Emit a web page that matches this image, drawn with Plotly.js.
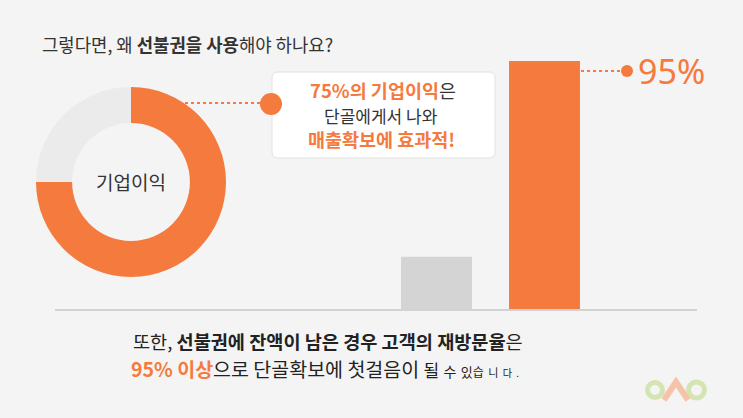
<!DOCTYPE html>
<html>
<head>
<meta charset="utf-8">
<script src="https://cdn.plot.ly/plotly-3.0.1.min.js"></script>
<style>html,body{margin:0;padding:0;background:#f4f4f4;}#chart{width:743px;height:418px;}</style>
</head>
<body>
<div id="chart"></div>
<script>
// ---- data ----
const donutLabels = ["단골 고객", "기타"];
const donutValues = [75, 25];
const barCategories = ["잔액 없음", "잔액 남음"];
const barValues = [20, 95];
const highlightLabel = "95%";
const donutCenterLabel = "기업이익";

// ---- styling ----
const ORANGE = "#f57a3d";
const W = 743, H = 418;
const px = x => x / W;
const py = y => 1 - y / H;

function roundRect(x0, y0, x1, y1, r) {
  const p = (x, y) => px(x) + "," + py(y);
  return "M" + p(x0 + r, y0) + " L" + p(x1 - r, y0) + " Q" + p(x1, y0) + " " + p(x1, y0 + r) +
    " L" + p(x1, y1 - r) + " Q" + p(x1, y1) + " " + p(x1 - r, y1) +
    " L" + p(x0 + r, y1) + " Q" + p(x0, y1) + " " + p(x0, y1 - r) +
    " L" + p(x0, y0 + r) + " Q" + p(x0, y0) + " " + p(x0 + r, y0) + " Z";
}

const traces = [
  {
    type: "pie",
    labels: donutLabels,
    values: donutValues,
    hole: 0.62,
    sort: false,
    direction: "clockwise",
    rotation: 0,
    textinfo: "none",
    hoverinfo: "label+percent",
    marker: { colors: [ORANGE, "#ebebeb"], line: { width: 0 } },
    domain: { x: [px(36), px(226)], y: [py(277), py(87)] },
    showlegend: false
  },
  {
    type: "bar",
    x: barCategories,
    y: barValues,
    marker: { color: ["#d4d4d4", ORANGE] },
    xaxis: "x",
    yaxis: "y",
    showlegend: false,
    hoverinfo: "x+y"
  }
];

const F = "'Noto Sans CJK KR', 'Noto Sans', sans-serif";

const line1 = "또한, <b>선불권에 잔액이 남은 경우 고객의 재방문율</b>은";
const line2 = "<b><span style='color:" + ORANGE + "'>95% 이상</span></b>으로 단골확보에 첫걸음이 " +
  "<span style='font-size:17px'>될</span> <span style='font-size:14px'>수</span> " +
  "<span style='font-size:13px'>있</span><span style='font-size:12px'>습</span> " +
  "<span style='font-size:11px'>니</span> <span style='font-size:10px'>다</span> " +
  "<span style='font-size:10px'>.</span>";

const layout = {
  width: W, height: H,
  margin: { l: 0, r: 0, t: 0, b: 0 },
  paper_bgcolor: "#f4f4f4",
  plot_bgcolor: "rgba(0,0,0,0)",
  bargap: 0.343,
  xaxis: {
    domain: [px(55), px(697)],
    range: [-3.532, 2.412],
    showline: true, linecolor: "#d2d2d2", linewidth: 2,
    showgrid: false, zeroline: false, showticklabels: false, ticks: "",
    fixedrange: true
  },
  yaxis: {
    domain: [py(309), 1],
    range: [0, 118.37],
    visible: false, fixedrange: true
  },
  shapes: [
    // callout box
    { type: "path", xref: "paper", yref: "paper", path: roundRect(272, 72, 495, 158, 6),
      fillcolor: "#ffffff", line: { color: "#e2e2e2", width: 1 } },
    // donut connector
    { type: "line", xref: "paper", yref: "paper", x0: px(185), x1: px(262), y0: py(103), y1: py(103),
      line: { color: ORANGE, width: 2, dash: "dot" } },
    { type: "circle", xref: "paper", yref: "paper", x0: px(260), x1: px(282), y0: py(93), y1: py(115),
      fillcolor: ORANGE, line: { width: 0 } },
    // 95% connector
    { type: "line", xref: "paper", yref: "paper", x0: px(581), x1: px(623), y0: py(71), y1: py(71),
      line: { color: ORANGE, width: 2, dash: "dot" } },
    { type: "circle", xref: "paper", yref: "paper", x0: px(621), x1: px(633), y0: py(65), y1: py(77),
      fillcolor: ORANGE, line: { width: 0 } },
    // logo
    { type: "circle", xref: "paper", yref: "paper", x0: px(647.5), x1: px(662.5), y0: py(382.5), y1: py(397.5),
      line: { color: "#d4e4b2", width: 5 } },
    { type: "circle", xref: "paper", yref: "paper", x0: px(688.5), x1: px(704.5), y0: py(382), y1: py(398),
      line: { color: "#d4e4b2", width: 5 } },
    { type: "path", xref: "paper", yref: "paper",
      path: "M" + px(664) + "," + py(400) + " L" + px(676) + "," + py(382) + " L" + px(688) + "," + py(400),
      line: { color: "#f5c3a9", width: 6 } }
  ],
  annotations: [
    { xref: "paper", yref: "paper", x: px(40), y: py(44), xanchor: "left", yanchor: "middle", showarrow: false,
      text: "그렇다면, 왜 <b>선불권을 사용</b>해야 하나요?", font: { family: F, size: 17.8, color: "#333333" } },
    { xref: "paper", yref: "paper", x: px(131), y: py(182), xanchor: "center", yanchor: "middle", showarrow: false,
      text: donutCenterLabel, font: { family: F, size: 19, color: "#333333" } },
    { xref: "paper", yref: "paper", x: px(383), y: py(90), xanchor: "center", yanchor: "middle", showarrow: false,
      text: "<b><span style='color:" + ORANGE + "'>75%의 기업이익</span></b>은", font: { family: F, size: 18.5, color: "#333333" } },
    { xref: "paper", yref: "paper", x: px(381), y: py(115), xanchor: "center", yanchor: "middle", showarrow: false,
      text: "단골에게서 나와", font: { family: F, size: 17, color: "#333333" } },
    { xref: "paper", yref: "paper", x: px(382), y: py(139), xanchor: "center", yanchor: "middle", showarrow: false,
      text: "<b>매출확보에 효과적!</b>", font: { family: F, size: 18.5, color: ORANGE } },
    { xref: "paper", yref: "paper", x: px(636), y: py(71), xanchor: "left", yanchor: "middle", showarrow: false,
      text: highlightLabel, font: { family: "'Noto Sans', sans-serif", size: 34, color: ORANGE } },
    { xref: "paper", yref: "paper", x: px(131), y: py(340), xanchor: "left", yanchor: "middle",
      showarrow: false, text: line1, font: { family: F, size: 18.6, color: "#222222" } },
    { xref: "paper", yref: "paper", x: px(129), y: py(368), xanchor: "left", yanchor: "middle",
      showarrow: false, text: line2, font: { family: F, size: 19.5, color: "#222222" } }
  ]
};

Plotly.newPlot("chart", traces, layout, { displayModeBar: false, staticPlot: true });
</script>
</body>
</html>
